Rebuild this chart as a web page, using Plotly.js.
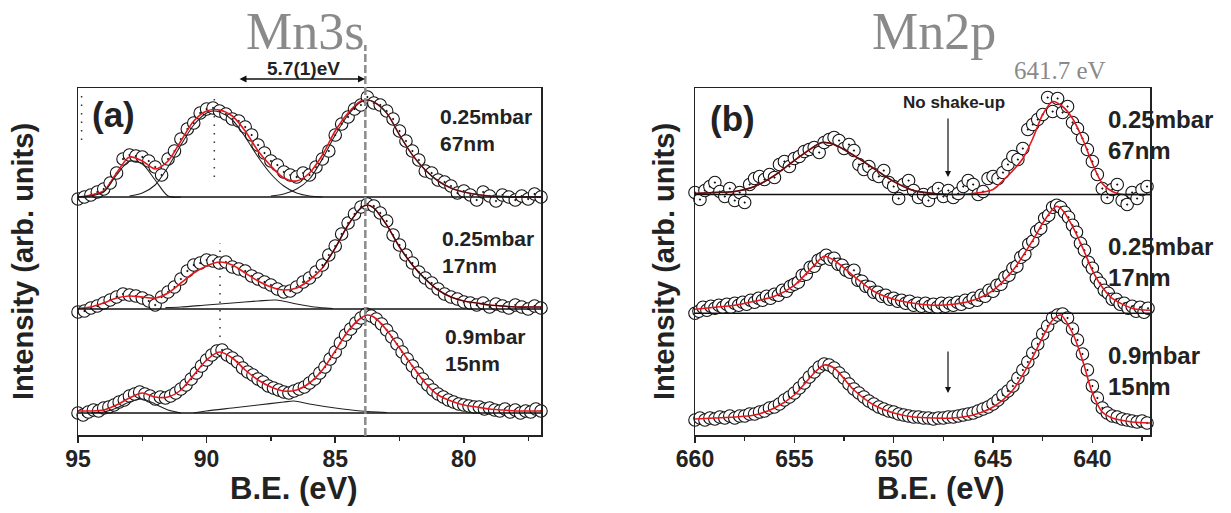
<!DOCTYPE html>
<html>
<head>
<meta charset="utf-8">
<script src="https://cdn.plot.ly/plotly-3.0.1.min.js"></script>
<style>html,body{margin:0;padding:0;background:#fff;}#chart{width:1231px;height:513px;}</style>
</head>
<body>
<div id="chart"></div>
<script>
// ---------------- DATA (binding energy in eV, intensity in arb. units) ----------------
// Mn3s energy grids
const beA_coarse = [95,94.75,94.5,94.25,94,93.75,93.5,93.25,93,92.75,92.5,92.25,92,91.75,91.5,91.25,91,90.75,90.5,90.25,90,89.75,89.5,89.25,89,88.75,88.5,88.25,88,87.75,87.5,87.25,87,86.75,86.5,86.25,86,85.75,85.5,85.25,85,84.75,84.5,84.25,84,83.75,83.5,83.25,83,82.75,82.5,82.25,82,81.75,81.5,81.25,81,80.75,80.5,80.25,80,79.75,79.5,79.25,79,78.75,78.5,78.25,78,77.75,77.5,77.25,77];
const beA_fine = [95,94.8,94.6,94.4,94.2,94,93.8,93.6,93.4,93.2,93,92.8,92.6,92.4,92.2,92,91.8,91.6,91.4,91.2,91,90.8,90.6,90.4,90.2,90,89.8,89.6,89.4,89.2,89,88.8,88.6,88.4,88.2,88,87.8,87.6,87.4,87.2,87,86.8,86.6,86.4,86.2,86,85.8,85.6,85.4,85.2,85,84.8,84.6,84.4,84.2,84,83.8,83.6,83.4,83.2,83,82.8,82.6,82.4,82.2,82,81.8,81.6,81.4,81.2,81,80.8,80.6,80.4,80.2,80,79.8,79.6,79.4,79.2,79,78.8,78.6,78.4,78.2,78,77.8,77.6,77.4,77.2,77];
// Mn3s measured intensities
const mn3s_025_67 = [-2,0,2,5,8,14,24,38,42,41,40,36,30,22,38,46,58,68,74,84,88,89,86,83,78,76,70,62,52,44,36,32,25,22,20,24,22,30,38,46,62,73,80,88,92,100,94,92,86,78,66,56,46,37,26,24,17,15,11,4,6,2,-3,5,1,-4,2,0,-3,1,-2,3,0];
const mn3s_025_17 = [-3,-2,1,3,6,9,12,15,14,13,11,8,4,12,17,22,30,38,44,46,49,48,46,47,42,40,38,33,30,27,24,20,17,18,22,27,31,37,44,54,63,75,86,95,102,105,103,96,88,74,64,54,46,37,31,26,20,15,12,10,7,6,4,6,2,5,3,1,4,2,0,3,1];
const mn3s_09_15 = [0,-2,1,3,2,5,6,8,11,13,17,19,21,19,17,14,16,15,17,20,24,28,34,40,47,53,58,62,63,58,55,51,45,41,38,34,31,27,25,23,21,20,22,24,26,30,34,40,46,54,61,70,78,84,90,95,99,97,94,89,83,76,69,61,54,47,40,34,28,23,19,16,13,11,9,8,7,6,6,4,5,3,2,4,1,3,0,2,1,4,2];
// Mn3s fits (envelopes)
const fitA_be = [95,94.5,94,93.5,93,92.5,92,91.5,91,90.5,90,89.5,89,88.5,88,87.5,87,86.5,86,85.5,85,84.5,84,83.75,83.5,83,82.5,82,81.5,81,80.5,80,79.5,79,78.5,78,77.5,77];
const fit3s_025_67 = [0,2,6,24,40,36,28,36,56,76,86,87,81,66,46,31,19,16,24,42,66,84,96,97,95,84,62,42,27,16,9,5,2.5,1,0.5,0,0,0];
const fit3s_025_17 = [0.7,2,6,11,13,12,11,16,26,36,43,47,44,36,28,22,19,21,29,41,61,84,101,104,101,84,62,44,30,19,12,8,6,4,3,2,2,2];
const fit3s_09_15  = [2,2,3,8,15,20,16,16,23,38,53,61,55,43,33,26,22,23,30,43,62,82,95,98,96,83,65,47,30,18,12,8,6,4,3,2,2,2];
// Mn3s fit components
const c1_67_be = [95,94.5,94,93.5,93,92.5,92,91.5,91];
const c1_67    = [0,1,5,22,36,33,17,1,0];
const c2_67_be = [93,92.5,92,91.5,91,90.5,90,89.75,89.5,89,88.5,88,87.5,87,86.5,86,85.5];
const c2_67    = [1,4,12,30,52,72,84,86,85,77,60,40,23,11,4,1,0];
const c3_67_be = [87.5,87,86.5,86,85.5,85,84.5,84,83.75,83.5,83,82.5,82,81.5,81,80.5,80,79.5,79,78.5,78,77];
const c3_67    = [1,3,8,18,38,62,82,95,97,95,84,62,42,27,16,9,5,2.5,1,0.5,0,0];
const cm_17_be = [85.5,85,84.5,84,83.75,83.5,83,82.5,82,81.5,81,80.5,80,79.5,79,78.5,78,77.5,77];
const cm_17    = [41,61,84,101,104,101,84,62,44,30,19,12,8,6,4,3,2,2,2];
const cb_17_be = [91.6,91,90,89,88,87.3,86.5,85.8,85.1];
const cb_17    = [1.5,2,4,6,8,9,5,2,0.5];
const cs_15_be = [94.5,94,93.5,93,92.5,92,91.5,91];
const cs_15    = [0,1,5,11,14,9,3,0];
const cb_15_be = [90.5,90,89,88,87,86.6,86,85,84,83];
const cb_15    = [0,2,5,8,11,12,9,5,2,0.5];

// Mn2p energy grids
const beB_coarse = [660,659.75,659.5,659.25,659,658.75,658.5,658.25,658,657.75,657.5,657.25,657,656.75,656.5,656.25,656,655.75,655.5,655.25,655,654.75,654.5,654.25,654,653.75,653.5,653.25,653,652.75,652.5,652.25,652,651.75,651.5,651.25,651,650.75,650.5,650.25,650,649.75,649.5,649.25,649,648.75,648.5,648.25,648,647.75,647.5,647.25,647,646.75,646.5,646.25,646,645.75,645.5,645.25,645,644.75,644.5,644.25,644,643.75,643.5,643.25,643,642.75,642.5,642.25,642,641.75,641.5,641.25,641,640.75,640.5,640.25,640,639.75,639.5,639.25,639,638.75,638.5,638.25,638,637.75,637.5,637.25,637];
const beB_fine = [660,659.8,659.6,659.4,659.2,659,658.8,658.6,658.4,658.2,658,657.8,657.6,657.4,657.2,657,656.8,656.6,656.4,656.2,656,655.8,655.6,655.4,655.2,655,654.8,654.6,654.4,654.2,654,653.8,653.6,653.4,653.2,653,652.8,652.6,652.4,652.2,652,651.8,651.6,651.4,651.2,651,650.8,650.6,650.4,650.2,650,649.8,649.6,649.4,649.2,649,648.8,648.6,648.4,648.2,648,647.8,647.6,647.4,647.2,647,646.8,646.6,646.4,646.2,646,645.8,645.6,645.4,645.2,645,644.8,644.6,644.4,644.2,644,643.8,643.6,643.4,643.2,643,642.8,642.6,642.4,642.2,642,641.8,641.6,641.4,641.2,641,640.8,640.6,640.4,640.2,640,639.8,639.6,639.4,639.2,639,638.8,638.6,638.4,638.2,638,637.8,637.6,637.4,637.2];
// Mn2p measured intensities
const mn2p_025_67 = [2,-5,4,8,12,3,-2,6,-6,2,-8,10,16,18,15,20,17,30,33,28,36,38,43,45,47,42,52,55,57,54,46,50,44,30,25,28,20,18,24,12,8,-4,10,14,4,-3,0,-6,2,6,-2,4,-3,1,8,14,10,0,3,16,18,16,22,30,38,35,46,65,70,75,80,97,83,96,82,88,72,66,56,45,33,20,6,-3,5,10,-6,-10,2,-4,5,8,0];
const mn2p_025_17 = [0,2,6,3,7,5,8,6,9,6,10,8,11,9,13,11,15,13,17,15,19,18,23,22,27,29,31,38,39,46,47,53,55,58,54,55,49,48,43,41,43,33,32,27,26,21,21,17,18,14,15,12,13,10,12,8,10,7,10,7,9,6,10,7,10,8,11,9,13,11,15,13,18,17,23,22,28,29,36,38,45,47,56,59,69,72,82,85,95,98,106,108,106,101,96,88,81,70,63,51,45,35,30,23,20,14,14,9,10,5,7,2,6,1,5];
const mn2p_09_15 = [2,4,2,4,3,5,4,6,4,6,6,8,8,10,11,14,15,18,22,25,29,34,39,45,50,55,58,57,54,49,44,38,33,29,25,21,18,15,13,11,10,8,7,6,5,5,4,4,3,4,4,5,5,6,7,8,9,11,13,15,18,22,27,31,36,44,52,60,69,78,88,96,104,107,108,104,93,82,68,52,36,24,14,9,6,5,3,2,1,0,1,-1,0];
// Mn2p fits
const fit2p_67_be = [660,659,658,657,656,655,654,653.6,653,652,651,650,649,648,647,646,645,644.5,644,643.5,643,642.5,642,641.5,641,640.5,640,639.5,639,638.5,638,637.1];
const fit2p_67    = [1,2,3,8,19,34,48,52,50,39,26,13,4,1,0,1,5,14,24,36,56,80,93,88,76,56,31,11,3,0,0,0];
const comp2p_67_be = [660,659,658,657,656,655,654,653.6,653,652,651,650,649,648,647.3];
const comp2p_67    = [1,2,3,8,19,34,48,52,50,39,26,13,4,1,0];
const fit2p_17_be = [660,659,658,657,656,655,654,653.5,653,652,651,650,649,648,647,646,645,644,643,642.5,642,641.8,641.5,641,640.5,640,639.5,639,638,637.1];
const fit2p_17    = [4,6,8,12,17,28,48,57,53,37,22,14,10,8,9,13,23,43,73,90,104,107,103,87,66,43,26,15,5,3];
const fit2p_15_be = [660,659,658,657,656,655,654,653.5,653,652,651,650,649,648,647,646,645,644,643,642.5,642,641.6,641,640.5,640,639.5,639,638,637.1];
const fit2p_15    = [3,4,5,7,14,27,49,57,54,32,17,9,5,4,4,7,15,32,65,85,102,107,89,62,29,10,4,0,-1];

// labels
const samples = ['0.25mbar<br>67nm', '0.25mbar<br>17nm', '0.9mbar<br>15nm'];

// ---------------- LAYOUT CONSTANTS (positions only) ----------------
const W = 1231, H = 513;
const px = v => v / W, py = v => 1 - v / H;
const offA = [238, 126, 22];     // vertical stacking offsets, panel (a)
const offB = [240.5, 121.7, 13]; // vertical stacking offsets, panel (b)
const RED = '#e5161d';

function shift(arr, o) { return arr.map(v => v + o); }
function circles(x, y, o, xa, ya) {
  return {x: x, y: shift(y, o), xaxis: xa, yaxis: ya, mode: 'markers', type: 'scatter', cliponaxis: false,
    marker: {symbol: 'circle-dot', size: 12.5, color: 'white', line: {color: '#111', width: 1.1}}, hoverinfo: 'skip'};
}
function line(x, y, o, xa, ya, color, w) {
  return {x: x, y: shift(y, o), xaxis: xa, yaxis: ya, mode: 'lines', type: 'scatter', cliponaxis: false,
    line: {color: color, width: w, shape: 'spline', smoothing: 0.8}, hoverinfo: 'skip'};
}

const traces = [
  // panel (a)
  circles(beA_coarse, mn3s_025_67, offA[0], 'x', 'y'),
  line(fitA_be, fit3s_025_67, offA[0], 'x', 'y', RED, 1.6),
  line(c1_67_be, c1_67, offA[0], 'x', 'y', '#222', 1.1),
  line(c2_67_be, c2_67, offA[0], 'x', 'y', '#222', 1.1),
  line(c3_67_be, c3_67, offA[0], 'x', 'y', '#222', 1.1),
  circles(beA_coarse, mn3s_025_17, offA[1], 'x', 'y'),
  line(fitA_be, fit3s_025_17, offA[1], 'x', 'y', RED, 1.6),
  line(cm_17_be, cm_17, offA[1], 'x', 'y', '#2a1010', 1.2),
  line(cb_17_be, cb_17, offA[1], 'x', 'y', '#222', 1.1),
  circles(beA_fine, mn3s_09_15, offA[2], 'x', 'y'),
  line(fitA_be, fit3s_09_15, offA[2], 'x', 'y', RED, 1.6),
  line(cs_15_be, cs_15, offA[2], 'x', 'y', '#222', 1.1),
  line(cb_15_be, cb_15, offA[2], 'x', 'y', '#222', 1.1),
  // panel (b)
  circles(beB_coarse, mn2p_025_67, offB[0], 'x2', 'y2'),
  line(fit2p_67_be, fit2p_67, offB[0], 'x2', 'y2', RED, 1.6),
  line(comp2p_67_be, comp2p_67, offB[0], 'x2', 'y2', '#4a1515', 1.4),
  circles(beB_fine, mn2p_025_17, offB[1], 'x2', 'y2'),
  line(fit2p_17_be, fit2p_17, offB[1], 'x2', 'y2', RED, 1.6),
  circles(beB_coarse, mn2p_09_15, offB[2], 'x2', 'y2'),
  line(fit2p_15_be, fit2p_15, offB[2], 'x2', 'y2', RED, 1.6)
];

const tickFont = {family: 'Liberation Sans, Arial, sans-serif', size: 23, color: '#222', weight: 'bold'};
const yTitleFont = {family: 'Liberation Sans, Arial, sans-serif', size: 29, color: '#222', weight: 'bold'};

function xAxis(dom, range, tick0) {
  return {domain: dom, range: range, tick0: tick0, dtick: 5, ticks: 'outside', ticklen: 6, tickwidth: 1.5, tickcolor: '#222',
    ticklabelstandoff: -3,
    minor: {dtick: 2.5, tick0: tick0, ticks: 'outside', ticklen: 4, tickwidth: 1.2, tickcolor: '#222'},
    showline: true, linecolor: '#222', linewidth: 1.5, mirror: true, showgrid: false, zeroline: false,
    tickfont: tickFont};
}
function yAxis(dom, anchor, standoff) {
  return {domain: dom, range: [0, 347], anchor: anchor, showticklabels: false, ticks: '', showline: true, linecolor: '#222',
    linewidth: 1.5, mirror: true, showgrid: false, zeroline: false,
    title: {text: 'Intensity (arb. units)', font: yTitleFont, standoff: standoff}};
}
const yDom = [(H - 435) / H, (H - 88) / H];

const shapes = [];
function hline(xa, ya, x0, x1, yv) {
  shapes.push({type: 'line', xref: xa, yref: ya, x0: x0, x1: x1, y0: yv, y1: yv, line: {color: '#111', width: 1.5}, layer: 'above'});
}
hline('x', 'y', 95, 77, offA[0]);
hline('x', 'y', 95, 77, offA[1]);
hline('x', 'y', 95, 77, offA[2]);
hline('x2', 'y2', 660, 637.1, offB[0]);
hline('x2', 'y2', 660, 637.1, offB[1]);
// main Mn3s peak marker (dashed) and satellite markers (dotted)
shapes.push({type: 'line', xref: 'x', yref: 'paper', x0: 83.83, x1: 83.83, y0: py(436), y1: py(45),
  line: {color: '#8c8c8c', width: 2.5, dash: '8px,3px'}, layer: 'above'});
function vdot(xv, y0p, y1p) {
  shapes.push({type: 'line', xref: 'x', yref: 'paper', x0: xv, x1: xv, y0: py(y0p), y1: py(y1p),
    line: {color: '#333', width: 1.5, dash: '1.5px,7px'}, layer: 'above'});
}
vdot(89.70, 177, 92);
vdot(94.86, 140, 92);
vdot(89.48, 337, 243);

const lab = {family: 'Liberation Sans, Arial, sans-serif', color: '#222', weight: 'bold'};
function ann(text, x, y, size, extra) {
  return Object.assign({text: text, xref: 'paper', yref: 'paper', x: px(x), y: py(y), showarrow: false,
    xanchor: 'center', yanchor: 'middle', font: Object.assign({}, lab, {size: size})}, extra || {});
}
const serif = {family: 'Liberation Serif, Times New Roman, serif', color: '#8a8a8a'};
const annotations = [
  {text: 'Mn3s', xref: 'paper', yref: 'paper', x: px(305), y: py(1), showarrow: false, xanchor: 'center', yanchor: 'top',
   font: Object.assign({}, serif, {size: 52})},
  {text: 'Mn2p', xref: 'paper', yref: 'paper', x: px(934), y: py(1), showarrow: false, xanchor: 'center', yanchor: 'top',
   font: Object.assign({}, serif, {size: 52})},
  {text: '641.7 eV', xref: 'paper', yref: 'paper', x: px(1060), y: py(70), showarrow: false, xanchor: 'center', yanchor: 'middle',
   font: Object.assign({}, serif, {size: 25})},
  ann('5.7(1)eV', 303, 68, 19),
  {text: '', xref: 'paper', yref: 'paper', x: px(365), y: py(79), ax: -127, ay: 0, showarrow: true,
   arrowhead: 2, arrowside: 'end+start', arrowsize: 1, arrowwidth: 1.4, arrowcolor: '#111'},
  ann('(a)', 113, 115, 35),
  ann('(b)', 732, 118, 35),
  ann(samples[0], 438, 130, 21, {xanchor: 'left', align: 'left'}),
  ann(samples[1], 440, 252, 21, {xanchor: 'left', align: 'left'}),
  ann(samples[2], 443, 350, 21, {xanchor: 'left', align: 'left'}),
  ann(samples[0], 1106, 135, 24, {xanchor: 'left', align: 'left'}),
  ann(samples[1], 1106, 262, 24, {xanchor: 'left', align: 'left'}),
  ann(samples[2], 1106, 371, 24, {xanchor: 'left', align: 'left'}),
  ann('No shake-up', 954, 103, 17),
  {text: '', xref: 'paper', yref: 'paper', x: px(948), y: py(177), ax: 0, ay: -60, showarrow: true,
   arrowhead: 2, arrowsize: 1, arrowwidth: 1.2, arrowcolor: '#111'},
  {text: '', xref: 'paper', yref: 'paper', x: px(948), y: py(393), ax: 0, ay: -43, showarrow: true,
   arrowhead: 2, arrowsize: 1, arrowwidth: 1.2, arrowcolor: '#111'},
  // x-axis titles
  ann('B.E. (eV)', 293, 488, 31),
  ann('B.E. (eV)', 940, 488, 31)
];

const layout = {
  width: W, height: H, margin: {l: 0, r: 0, t: 0, b: 0}, paper_bgcolor: 'white', plot_bgcolor: 'white', showlegend: false,
  xaxis: Object.assign(xAxis([78 / W, 541 / W], [95, 77], 95), {anchor: 'y'}),
  yaxis: yAxis(yDom, 'x', 34),
  xaxis2: Object.assign(xAxis([695 / W, 1150 / W], [660, 637.1], 660), {anchor: 'y2'}),
  yaxis2: yAxis(yDom, 'x2', 10),
  shapes: shapes, annotations: annotations
};

Plotly.newPlot('chart', traces, layout, {staticPlot: true, displayModeBar: false});
</script>
</body>
</html>
